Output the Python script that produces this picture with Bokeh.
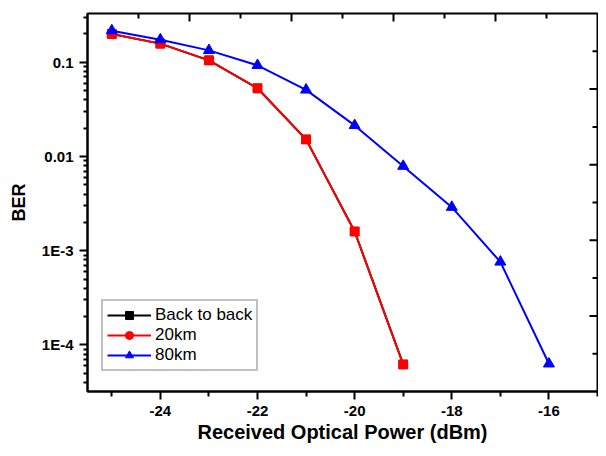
import math
from bokeh.plotting import figure
from bokeh.models import (Range1d, LinearScale, FixedTicker, CustomJSTickFormatter,
                          Legend, LegendItem)
from bokeh.embed import file_html
from bokeh.resources import INLINE

# ---- data ----
power = [-25, -24, -23, -22, -21, -20, -19, -18, -17, -16]
ber_b2b = [0.20, 0.158, 0.105, 0.053, 0.0152, 0.0016, 6.2e-5]
ber_20km = [0.20, 0.158, 0.105, 0.053, 0.0152, 0.0016, 6.2e-5]
ber_80km = [0.217, 0.174, 0.134, 0.093, 0.051, 0.0214, 0.0079, 0.0029, 7.6e-4, 6.3e-5]

x_major = [-24, -22, -20, -18, -16]
x_minor = [-25, -23, -21, -19, -17, -15]
y_tick_values = [1e-4, 1e-3, 0.01, 0.1]
y_tick_labels = ["1E-4", "1E-3", "0.01", "0.1"]
y_minor = [m * 10.0 ** e for e in range(-5, 0) for m in range(2, 10)]
# top / right frame axes (linear 0..10, unlabeled)
frame_major = [2, 4, 6, 8]
frame_minor = [1, 3, 5, 7, 9]

FONT = "Liberation Sans"

p = figure(width=598, height=448, y_axis_type="log",
           x_range=(-25.5, -15.0), y_range=(3.2e-5, 0.33),
           output_backend="svg", toolbar_location=None,
           min_border_left=87, min_border_top=13, min_border_right=1,
           min_border_bottom=57)
p.outline_line_color = "black"
p.outline_line_width = 2
p.xgrid.visible = False
p.ygrid.visible = False
p.background_fill_color = "white"
p.border_fill_color = "white"
p.extra_x_ranges = {"top": Range1d(0, 10)}
p.extra_y_ranges = {"right": Range1d(0, 10)}
p.extra_x_scales = {"top": LinearScale()}
p.extra_y_scales = {"right": LinearScale()}

x20 = power[:len(ber_20km)]
r_b2b_l = p.line(x20, ber_b2b, line_color="black", line_width=2)
r_b2b_m = p.scatter(x20, ber_b2b, marker="square", size=8, color="black")
r20_l = p.line(x20, ber_20km, line_color="#ff0000", line_width=2)
r20_c = p.scatter(x20, ber_20km, marker="circle", size=7, color="#ff0000")
p.scatter(x20, ber_20km, marker="square", size=9, color="#ff0000")
r80_l = p.line(power, ber_80km, line_color="#0000ff", line_width=2)
r80_m = p.scatter(power, ber_80km, marker="triangle", size=11, color="#0000ff")

# inward ticks of the top and right frame edges (dash markers clipped by the frame)
p.scatter(frame_major, [10] * len(frame_major), marker="dash", size=16, angle=math.pi / 2,
          line_color="black", line_width=2, x_range_name="top", y_range_name="right")
p.scatter(frame_minor, [10] * len(frame_minor), marker="dash", size=10, angle=math.pi / 2,
          line_color="black", line_width=2, x_range_name="top", y_range_name="right")
p.scatter([10] * len(frame_major), frame_major, marker="dash", size=16,
          line_color="black", line_width=2, x_range_name="top", y_range_name="right")
p.scatter([10] * len(frame_minor), frame_minor, marker="dash", size=10,
          line_color="black", line_width=2, x_range_name="top", y_range_name="right")

def style(ax):
    ax.axis_line_width = 2
    ax.major_tick_line_width = 2
    ax.minor_tick_line_width = 2
    ax.major_label_text_font = FONT
    ax.major_label_text_font_style = "bold"
    ax.major_label_text_font_size = "15px"
    ax.major_label_text_color = "black"
    ax.axis_label_text_font = FONT
    ax.axis_label_text_font_style = "bold"
    ax.axis_label_text_color = "black"

xa = p.xaxis[0]
style(xa)
xa.ticker = FixedTicker(ticks=x_major, minor_ticks=x_minor)
xa.formatter = CustomJSTickFormatter(code="return tick.toString();")
xa.major_tick_out = 8
xa.major_tick_in = 0
xa.minor_tick_out = 5
xa.minor_tick_in = 0
xa.major_label_standoff = 6
xa.axis_label = "Received Optical Power (dBm)"
xa.axis_label_text_font_size = "20px"
xa.axis_label_standoff = 2

ya = p.yaxis[0]
style(ya)
ya.ticker = FixedTicker(ticks=y_tick_values, minor_ticks=y_minor)
ya.formatter = CustomJSTickFormatter(args=dict(vals=y_tick_values, labs=y_tick_labels), code="""
for (let i = 0; i < vals.length; i++) {
  if (Math.abs(Math.log10(tick) - Math.log10(vals[i])) < 1e-6) return labs[i];
}
return "";
""")
ya.major_tick_out = 8
ya.major_tick_in = 0
ya.minor_tick_out = 4
ya.minor_tick_in = 0
ya.major_label_standoff = 6
ya.axis_label = "BER"
ya.axis_label_text_font_size = "18px"
ya.axis_label_standoff = 10

legend = Legend(items=[
    LegendItem(label="Back to back", renderers=[r_b2b_l, r_b2b_m]),
    LegendItem(label="20km", renderers=[r20_l, r20_c]),
    LegendItem(label="80km", renderers=[r80_l, r80_m]),
], location=(14, 20))
legend.label_text_font = FONT
legend.label_text_font_size = "17px"
legend.label_text_color = "black"
legend.glyph_width = 44
legend.glyph_height = 20
legend.label_height = 20
legend.label_standoff = 4
legend.spacing = 0
legend.padding = 4
legend.margin = 0
legend.border_line_color = "#808080"
legend.border_line_width = 2
legend.background_fill_alpha = 1
p.add_layout(legend, "center")

open("out.html", "w").write(file_html(p, INLINE))
